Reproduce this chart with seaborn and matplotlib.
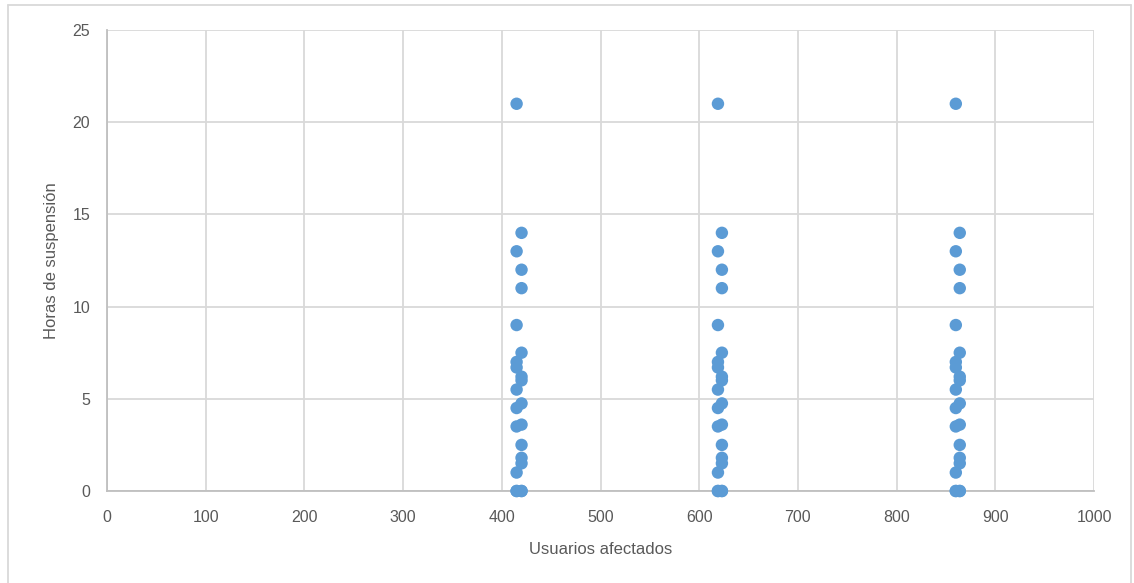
import pandas as pd
import seaborn as sns
import matplotlib.pyplot as plt
from matplotlib.lines import Line2D

# Horas de suspension por punto (mismo patron en las tres columnas)
horas = [21, 14, 13, 12, 11, 9, 7.5, 7, 6.7, 6.2, 6.0, 5.5, 4.75, 4.5,
         3.6, 3.5, 2.5, 1.8, 1.5, 1.0, 0, 0, 0, 0]
# desplazamiento izquierda (0) / derecha (1) de cada punto
lado = [0, 1, 0, 1, 1, 0, 1, 0, 0, 1, 1, 0, 1, 0,
        1, 0, 1, 1, 1, 0, 0, 1, 0, 1]

usuarios_izq = [415, 619, 860]
usuarios_der = [420, 623, 864]

filas = []
for xi, xd in zip(usuarios_izq, usuarios_der):
    for h, l in zip(horas, lado):
        filas.append({"Usuarios afectados": xd if l else xi,
                      "Horas de suspensión": h})
df = pd.DataFrame(filas)

sns.set_style("white")
plt.rcParams["font.family"] = ["Liberation Sans", "DejaVu Sans"]

fig = plt.figure(figsize=(11.34, 5.83), dpi=100)
ax = fig.add_axes([107 / 1134, 1 - 491 / 583, (1094 - 107) / 1134, (491 - 30) / 583])

sns.scatterplot(data=df, x="Usuarios afectados", y="Horas de suspensión",
                color="#5B9BD5", s=80, edgecolor="none", ax=ax, zorder=3,
                clip_on=False)

ax.set_xlim(0, 1000)
ax.set_ylim(0, 25)
ax.set_xticks(range(0, 1001, 100))
ax.set_yticks(range(0, 26, 5))
ax.grid(True, color="#d9d9d9", linewidth=1.3)
ax.set_axisbelow(True)
for s in ["top", "right"]:
    ax.spines[s].set_visible(False)
for s in ["left", "bottom"]:
    ax.spines[s].set_color("#bfbfbf")
    ax.spines[s].set_linewidth(1.3)
ax.tick_params(axis="both", length=0, labelsize=11.5, colors="#595959")
ax.tick_params(axis="x", pad=14)
ax.tick_params(axis="y", pad=12)
ax.set_xlabel("Usuarios afectados", fontsize=12, color="#595959", labelpad=12)
ax.set_ylabel("Horas de suspensión", fontsize=12, color="#595959", labelpad=10)

# borde del grafico
borde = "#d9d9d9"
fig.add_artist(Line2D([8 / 1134, 8 / 1134], [0, 1 - 5 / 583], color=borde, lw=1.3))
fig.add_artist(Line2D([8 / 1134, 1131 / 1134], [1 - 5 / 583, 1 - 5 / 583], color=borde, lw=1.3))
fig.add_artist(Line2D([1131 / 1134, 1131 / 1134], [0, 1 - 5 / 583], color=borde, lw=1.3))

plt.savefig("out.png", dpi=100)
plt.close()
